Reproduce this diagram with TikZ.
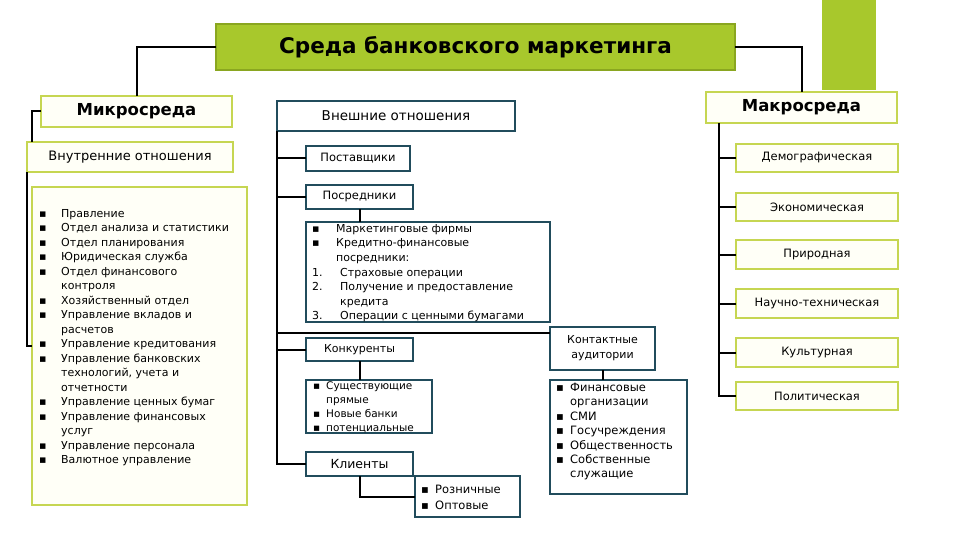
\documentclass[tikz,border=0pt]{standalone}
\usepackage{fontspec}
\setmainfont{DejaVu Sans}
\definecolor{tgreen}{RGB}{168,200,44}
\definecolor{tgreenD}{RGB}{138,166,32}
\definecolor{lgreen}{RGB}{198,214,82}
\definecolor{tealb}{RGB}{33,76,92}
\definecolor{cream}{RGB}{255,255,247}
\newcommand\itm[3]{\makebox[#1][l]{#2}#3}
\tikzset{
  base/.style={anchor=north west, inner sep=0pt, outer sep=0pt},
  gbox/.style={base, draw=lgreen, line width=1.6pt, fill=cream, align=center},
  tbox/.style={base, draw=tealb, line width=1.6pt, fill=white, align=center},
  listtext/.style={anchor=north west, inner sep=0pt, align=left},
  conn/.style={draw=black, line width=2pt},
}
\begin{document}
\begin{tikzpicture}[x=1pt,y=-1pt]
\useasboundingbox (0,0) rectangle (960,540);
% top
\node[base, fill=tgreen, minimum width=54pt, minimum height=90pt] (bar) at (822,0) {};
\node[base, fill=tgreen, draw=tgreenD, line width=1.2pt, minimum width=519pt, minimum height=46pt,
  font=\bfseries\fontsize{21.5}{24}\selectfont] (title) at (216,24) {Среда банковского маркетинга};
% micro
\node[gbox, minimum width=191pt, minimum height=31pt, font=\bfseries\fontsize{16.5}{19}\selectfont] (micro) at (41,96) {Микросреда};
\node[gbox, minimum width=206pt, minimum height=30pt, font=\fontsize{13}{15}\selectfont] (inner) at (27,142) {Внутренние отношения};
\node[gbox, line width=2pt, minimum width=215pt, minimum height=318pt] (ilist) at (32,187) {};
\node[listtext, font=\fontsize{11}{14.5}\selectfont] (ilistt) at (39,209) {%
\itm{22pt}{▪}{Правление}\\
\itm{22pt}{▪}{Отдел анализа и статистики}\\
\itm{22pt}{▪}{Отдел планирования}\\
\itm{22pt}{▪}{Юридическая служба}\\
\itm{22pt}{▪}{Отдел финансового}\\
\itm{22pt}{}{контроля}\\
\itm{22pt}{▪}{Хозяйственный отдел}\\
\itm{22pt}{▪}{Управление вкладов и}\\
\itm{22pt}{}{расчетов}\\
\itm{22pt}{▪}{Управление кредитования}\\
\itm{22pt}{▪}{Управление банковских}\\
\itm{22pt}{}{технологий, учета и}\\
\itm{22pt}{}{отчетности}\\
\itm{22pt}{▪}{Управление ценных бумаг}\\
\itm{22pt}{▪}{Управление финансовых}\\
\itm{22pt}{}{услуг}\\
\itm{22pt}{▪}{Управление персонала}\\
\itm{22pt}{▪}{Валютное управление}};
% middle
\node[tbox, minimum width=238pt, minimum height=30pt, font=\fontsize{13.5}{16}\selectfont] (ext) at (277,101) {Внешние отношения};
\node[tbox, minimum width=104pt, minimum height=25pt, font=\fontsize{11.5}{14}\selectfont] (supp) at (306,146) {Поставщики};
\node[tbox, minimum width=107pt, minimum height=24pt, font=\fontsize{11.5}{14}\selectfont] (inter) at (306,185) {Посредники};
\node[tbox, minimum width=244pt, minimum height=100pt] (mlist) at (306,222) {};
\node[listtext, font=\fontsize{11}{14.6}\selectfont] (mlistt) at (312,224) {%
\itm{24pt}{▪}{Маркетинговые фирмы}\\
\itm{24pt}{▪}{Кредитно-финансовые}\\
\itm{24pt}{}{посредники:}\\
\itm{28pt}{1.}{Страховые операции}\\
\itm{28pt}{2.}{Получение и предоставление}\\
\itm{28pt}{}{кредита}\\
\itm{28pt}{3.}{Операции с ценными бумагами}};
\node[tbox, minimum width=107pt, minimum height=23pt, font=\fontsize{11}{14}\selectfont] (comp) at (306,338) {Конкуренты};
\node[tbox, minimum width=126pt, minimum height=53pt] (clist) at (306,380) {};
\node[listtext, font=\fontsize{10.5}{13.7}\selectfont] (clistt) at (313,382) {%
\itm{13pt}{▪}{Существующие}\\
\itm{13pt}{}{прямые}\\
\itm{13pt}{▪}{Новые банки}\\
\itm{13pt}{▪}{потенциальные}};
\node[tbox, minimum width=107pt, minimum height=24pt, font=\fontsize{12.5}{15}\selectfont] (clients) at (306,452) {Клиенты};
\node[tbox, minimum width=105pt, minimum height=41pt] (cllist) at (415,476) {};
\node[listtext, font=\fontsize{11.5}{16}\selectfont] (cllistt) at (421,485) {%
\itm{14pt}{▪}{Розничные}\\
\itm{14pt}{▪}{Оптовые}};
\node[tbox, minimum width=105pt, minimum height=43pt, font=\fontsize{11}{15}\selectfont] (contact) at (550,327) {Контактные\\аудитории};
\node[tbox, minimum width=137pt, minimum height=114pt] (colist) at (550,380) {};
\node[listtext, font=\fontsize{11.5}{14.4}\selectfont] (colistt) at (556,383) {%
\itm{14pt}{▪}{Финансовые}\\
\itm{14pt}{}{организации}\\
\itm{14pt}{▪}{СМИ}\\
\itm{14pt}{▪}{Госучреждения}\\
\itm{14pt}{▪}{Общественность}\\
\itm{14pt}{▪}{Собственные}\\
\itm{14pt}{}{служащие}};
% macro
\node[gbox, minimum width=191pt, minimum height=31pt, font=\bfseries\fontsize{16.5}{19}\selectfont] (macro) at (706,92) {Макросреда};
\tikzset{rbox/.style={gbox, minimum width=162pt, font=\fontsize{11.5}{14}\selectfont}}
\node[rbox, minimum height=28pt] (demo) at (736,144) {Демографическая};
\node[rbox, minimum height=28pt] (econ) at (736,193) {Экономическая};
\node[rbox, minimum height=29pt] (nat) at (736,240) {Природная};
\node[rbox, minimum height=29pt] (sci) at (736,289) {Научно-техническая};
\node[rbox, minimum height=29pt] (cult) at (736,338) {Культурная};
\node[rbox, minimum height=28pt] (pol) at (736,382) {Политическая};
% connectors
\coordinate (lv) at (32,112);
\coordinate (rv) at (719,123);
\coordinate (cj) at (550,333);
\draw[conn] (title.west) -| (micro.north);
\draw[conn] (title.east) -| (macro.north);
\draw[conn] (micro.west) -| (lv |- inner.north);
\draw[conn] (inner.south west) |- (ilist.west);
\draw[conn] (ext.south west) |- (clients.west);
\draw[conn] (ext.south west |- supp.west) -- (supp.west);
\draw[conn] (ext.south west |- inter.west) -- (inter.west);
\draw[conn] (ext.south west |- comp.west) -- (comp.west);
\draw[conn] (ext.south west |- cj) -- (cj);
\draw[conn] (inter.south) -- (inter.south |- mlist.north);
\draw[conn] (comp.south) -- (comp.south |- clist.north);
\draw[conn] (clients.south) |- (cllist.west);
\draw[conn] (contact.south) -- (contact.south |- colist.north);
\draw[conn] (rv) |- (pol.west);
\foreach \n in {demo,econ,nat,sci,cult}
  \draw[conn] (rv |- \n.west) -- (\n.west);
\end{tikzpicture}
\end{document}
